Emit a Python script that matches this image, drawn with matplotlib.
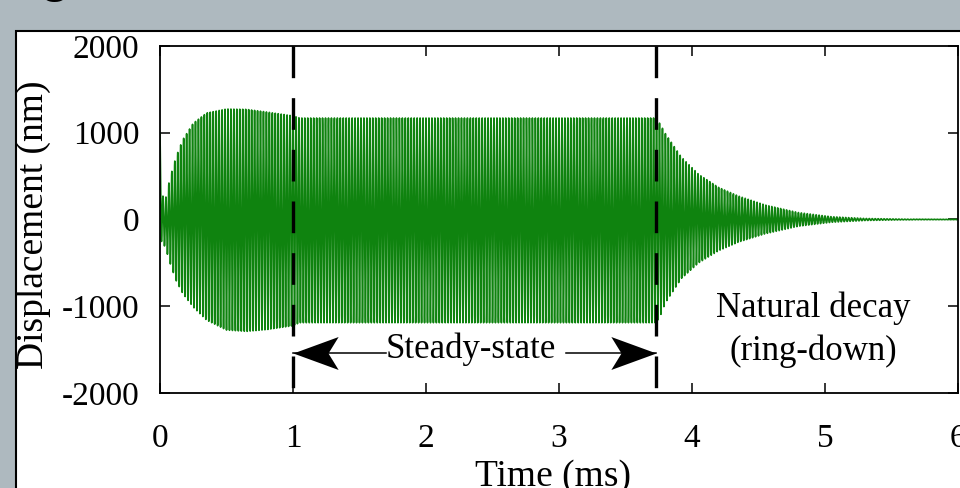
import numpy as np
import matplotlib
matplotlib.use('Agg')
import matplotlib.pyplot as plt
from matplotlib.path import Path
from matplotlib.patches import Rectangle

# envelope of the response (time in ms, displacement in nm)
env_t = [0.0, 0.01, 0.04, 0.075, 0.12, 0.17, 0.25, 0.35, 0.5, 0.65, 0.8, 1.0, 1.05,
         3.73, 3.76, 3.8, 3.92, 4.05, 4.2, 4.35, 4.55, 4.8, 5.05, 5.3, 5.6, 6.0]
env_hi = [1000, 300, 225, 480, 720, 917, 1110, 1228, 1274, 1270, 1240, 1195, 1170,
          1170, 1100, 990, 720, 520, 370, 270, 167, 80, 32, 12, 4, 2]
env_lo = [-350, -250, -320, -500, -700, -850, -1010, -1160, -1275, -1290, -1270, -1225, -1190,
          -1190, -1120, -960, -680, -500, -360, -260, -165, -78, -32, -12, -4, -2]
carrier_khz = 45

# phase boundaries (ms) and labels
t_start_ss = 1.0
t_end_ss = 3.73
arrow_y = -1540
arrow_tail_left = 1.7
arrow_tail_right = 3.05

xticks = [0, 1, 2, 3, 4, 5, 6]
yticks = [-2000, -1000, 0, 1000, 2000]

plt.rcParams['font.family'] = ['Liberation Serif', 'DejaVu Serif']
plt.rcParams['axes.unicode_minus'] = False

t = np.linspace(0, 6, 60001)
hi = np.interp(t, env_t, env_hi)
lo = np.interp(t, env_t, env_lo)
disp = (hi + lo) / 2 + (hi - lo) / 2 * np.cos(2 * np.pi * carrier_khz * t)

fig = plt.figure(figsize=(9.6, 4.88), dpi=100)
fig.patch.set_facecolor('#aeb9bf')
panel = Rectangle((16 / 960, -0.05), 1.0, 0.9365 + 0.05, transform=fig.transFigure,
                  facecolor='white', edgecolor='black', lw=1.5, zorder=-1)
fig.add_artist(panel)
# bottom of the slide title glyph, cut off at the top edge
fig.text(40 / 960, 1 + 8 / 488, 'g', fontsize=36, fontweight='bold',
         family='Liberation Sans', va='baseline', color='black')

ax = fig.add_axes([160 / 960, 1 - 393 / 488, 798 / 960, 347 / 488])
ax.plot(t, disp, color='#0f830f', lw=1.2, zorder=2)

for tv in [t_start_ss, t_end_ss]:
    ax.plot([tv, tv], [2000, -2000], color='black', lw=2.4, dashes=(9.5, 6.0),
            dash_capstyle='butt', zorder=3)

# arrows for the steady-state span
head_r = Path([(0, 0), (-2, 0.73), (-1.55, 0), (-2, -0.73), (0, 0)],
              [Path.MOVETO, Path.LINETO, Path.LINETO, Path.LINETO, Path.CLOSEPOLY])
head_l = Path([(0, 0), (2, 0.73), (1.55, 0), (2, -0.73), (0, 0)],
              [Path.MOVETO, Path.LINETO, Path.LINETO, Path.LINETO, Path.CLOSEPOLY])
ax.plot([t_start_ss, arrow_tail_left], [arrow_y, arrow_y], color='black', lw=1.1, zorder=4)
ax.plot([arrow_tail_right, t_end_ss], [arrow_y, arrow_y], color='black', lw=1.1, zorder=4)
ax.plot(t_start_ss, arrow_y, marker=head_l, ms=65, color='black', mew=0, zorder=5)
ax.plot(t_end_ss, arrow_y, marker=head_r, ms=65, color='black', mew=0, zorder=5)

ax.text(2.34, -1600, 'Steady-state', ha='center', va='baseline', fontsize=25)
ax.text(4.91, -1124, 'Natural decay', ha='center', va='baseline', fontsize=25)
ax.text(4.91, -1625, '(ring-down)', ha='center', va='baseline', fontsize=25)

ax.set_xlim(0, 6)
ax.set_ylim(-2000, 2000)
ax.set_xticks(xticks)
ax.set_yticks(yticks)
ax.tick_params(direction='in', length=7, width=1.1, top=True, right=True, labelsize=24)
ax.tick_params(axis='x', pad=22)
ax.tick_params(axis='y', pad=15)
for s in ax.spines.values():
    s.set_linewidth(1.3)

ax.set_xlabel('Time (ms)', fontsize=27)
ax.set_ylabel('Displacement (nm)', fontsize=27)
ax.xaxis.set_label_coords(0.4925, -0.19)
ax.yaxis.set_label_coords(-0.137, 0.485)

fig.savefig('out.png', dpi=100)
